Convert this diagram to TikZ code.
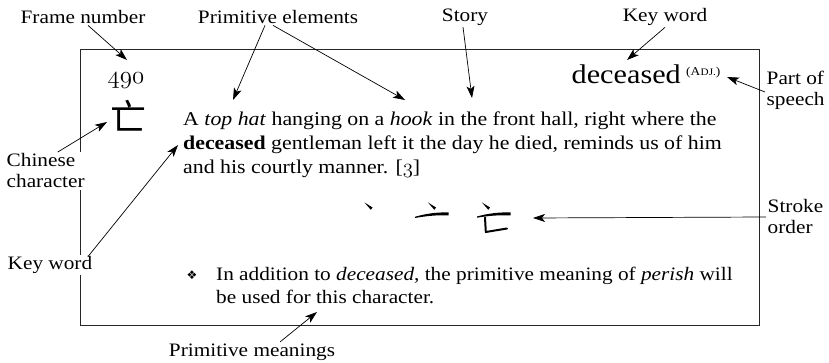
\documentclass[tikz,border=0pt]{standalone}
\usepackage{fontspec}
\setmainfont{Liberation Serif}[FakeStretch=1.12]
\newfontfamily\cjk{Noto Sans CJK SC}
\newfontfamily\dejavu{DejaVu Sans}
\usetikzlibrary{arrows.meta}
\newcommand{\oldnum}[1]{{\usefont{OML}{cmm}{m}{it}#1}}
\begin{document}
\begin{tikzpicture}[x=1pt,y=-1pt,
  lbl/.style={font=\fontsize{19}{21}\selectfont, inner sep=1.5pt},
  txt/.style={font=\fontsize{19.5}{24}\selectfont, inner sep=0pt, anchor=base west},
  txtb/.style={font=\fontsize{19}{24}\selectfont, inner sep=0pt, anchor=base west},
  arr/.style={-{Stealth[length=12pt,width=8pt,inset=3pt]}, line width=0.7pt},
  framebox/.style={draw=black!85, line width=0.8pt},
  brush/.style={line width=2pt, line cap=round, line join=round}]
\useasboundingbox (0,0) rectangle (829,363);
\draw[framebox] (80,49) rectangle (759,325);

% outside labels
\node[lbl] (fn) at (83,17) {Frame number};
\node[lbl] (pe) at (278,17) {Primitive elements};
\node[lbl] (st) at (465,17) {Story};
\node[lbl] (kwt) at (665,17) {Key word};
\node[lbl, align=left, anchor=west] (pos) at (765,90) {Part of\\speech};
\node[lbl, align=left, anchor=west, fill=white] (cc) at (5,171) {Chinese\\character};
\node[lbl, anchor=west, fill=white] (kwl) at (6,265) {Key word};
\node[lbl] (pm) at (252,352) {Primitive meanings};
\node[lbl, align=left, anchor=west] (so) at (766,217) {Stroke\\order};

% frame contents
\node[inner sep=0pt, anchor=base] (num) at (126,84) {\fontsize{24}{24}\selectfont\oldnum{490}};
\node[inner sep=0pt] (chr) at (128,116) {\cjk\fontsize{36}{36}\selectfont 亡};
\node[inner sep=0pt, anchor=base east] (kw) at (681,84) {\fontsize{27}{27}\selectfont deceased};
\node[inner sep=0pt, anchor=base west] (adj) at (686,76) {\fontsize{12}{12}\selectfont (A\kern0.3pt{\fontsize{10}{10}\selectfont DJ.})};

\node[txt] (s1) at (183,125.7) {A \textit{top hat} hanging on a \textit{hook} in the front hall, right where the};
\node[txt] (s2) at (183,150) {\textbf{deceased} gentleman left it the day he died, reminds us of him};
\node[txt] (s3) at (183,174) {and his courtly manner. [{\fontsize{21}{21}\selectfont\oldnum{3}}]};

\node[inner sep=0pt] (bul) at (192,275) {\dejavu\fontsize{12}{12}\selectfont ❖};
\node[txtb] (b1) at (216,280) {In addition to \textit{deceased}, the primitive meaning of \textit{perish} will};
\node[txtb] (b2) at (216,303) {be used for this character.};

% stroke order
\fill (364.5,202.5) -- (372.5,207.5) -- (370.8,209.8) -- cycle;
\fill (428,202.5) -- (436,207.5) -- (434.3,209.8) -- cycle;
\fill (415,216.8) .. controls (425,213.8) and (437,212) .. (448.5,212.5) -- (448.5,215.4) .. controls (437,214.8) and (425,216.2) .. (415,218) -- cycle;
\fill (482,202.5) -- (490,207.5) -- (488.3,209.8) -- cycle;
\fill (477,216.5) .. controls (487,213.6) and (499,212) .. (510.5,212.5) -- (510.5,215.4) .. controls (499,214.8) and (487,216) .. (477,217.7) -- cycle;
\draw[brush] (485,217.5) -- (485.8,232) -- (507,228.5);
\coordinate (soend) at (533,218);

% arrow targets
\coordinate (tnum) at (127,60);
\coordinate (tpe1) at (233,100);
\coordinate (tpe2) at (405,100);
\coordinate (tst) at (472,98);
\coordinate (tkw) at (627,60);
\coordinate (tpos) at (727,77);
\coordinate (tchr) at (107,122);
\coordinate (tkwl) at (178,145);
\coordinate (tpm) at (317,312);

\draw[arr] ([xshift=5pt]fn.south) -- (tnum);
\draw[arr] ([xshift=-13pt]pe.south) -- (tpe1);
\draw[arr] ([xshift=-5pt]pe.south) -- (tpe2);
\draw[arr] ([xshift=-2pt]st.south) -- (tst);
\draw[arr] (kwt.south) -- (tkw);
\draw[arr] ([yshift=-2pt]pos.west) -- (tpos);
\draw[arr] ([xshift=12pt]cc.north) -- (tchr);
\draw[arr] ([xshift=-6pt,yshift=-2pt]kwl.north east) -- (tkwl);
\draw[arr] ([xshift=28pt]pm.north) -- (tpm);
\draw[arr] (so.west) -- (soend);
\end{tikzpicture}
\end{document}
